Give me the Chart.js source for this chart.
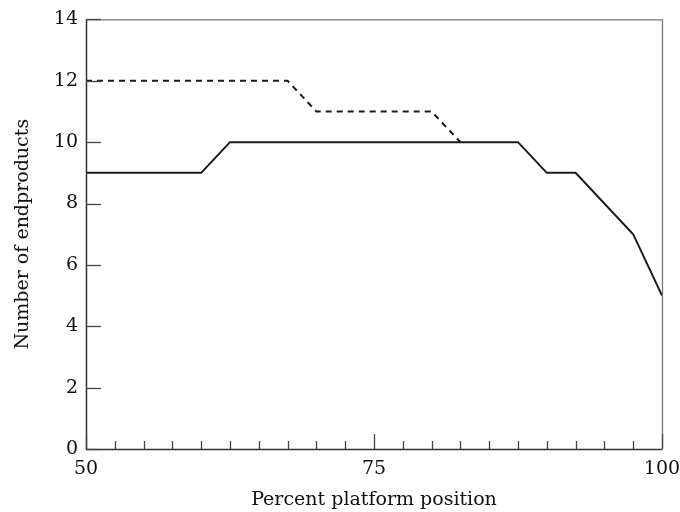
<!DOCTYPE html>
<html>
<head>
<meta charset="utf-8">
<script src="https://cdn.jsdelivr.net/npm/chart.js@4.4.0/dist/chart.umd.min.js"></script>
<style>
  html, body { margin: 0; padding: 0; background: #fff; }
  #wrap { width: 680px; height: 512px; }
</style>
</head>
<body>
<div id="wrap"><canvas id="grafico" width="680" height="512"></canvas></div>
<script>
// datos
const solidX = [50, 60, 62.5, 87.5, 90, 92.5, 97.5, 100];
const solidY = [9, 9, 10, 10, 9, 9, 7, 5];
const dashedX = [50, 67.5, 70, 80, 82.5];
const dashedY = [12, 12, 11, 11, 10];
const xLabels = [50, 75, 100];
const yTicks = [0, 2, 4, 6, 8, 10, 12, 14];

const fuente = "'DejaVu Serif', serif";

function puntos(xs, ys) {
  return xs.map((x, i) => ({ x: x, y: ys[i] }));
}

// marco y ticks hacia adentro
const marco = {
  id: 'marco',
  afterDraw(chart) {
    const ctx = chart.ctx;
    const a = chart.chartArea;
    const sx = chart.scales.x;
    const sy = chart.scales.y;
    ctx.save();
    ctx.lineWidth = 1.3;
    ctx.strokeStyle = '#777';
    ctx.beginPath();
    ctx.moveTo(a.left, a.top + 0.5);
    ctx.lineTo(a.right + 0.5, a.top + 0.5);
    ctx.lineTo(a.right + 0.5, a.bottom);
    ctx.stroke();
    ctx.strokeStyle = '#333';
    ctx.lineWidth = 1.5;
    ctx.beginPath();
    ctx.moveTo(a.left + 0.5, a.top);
    ctx.lineTo(a.left + 0.5, a.bottom + 0.5);
    ctx.lineTo(a.right + 0.5, a.bottom + 0.5);
    ctx.stroke();
    // ticks eje y
    ctx.strokeStyle = '#444';
    ctx.lineWidth = 1.3;
    yTicks.forEach(v => {
      const y = Math.round(sy.getPixelForValue(v)) + 0.5;
      ctx.beginPath();
      ctx.moveTo(a.left, y);
      ctx.lineTo(a.left + 15, y);
      ctx.stroke();
    });
    // ticks eje x
    for (let v = 50; v <= 100; v += 2.5) {
      const x = Math.round(sx.getPixelForValue(v)) + 0.5;
      const largo = (v % 25 === 0) ? 15 : 8;
      ctx.beginPath();
      ctx.moveTo(x, a.bottom);
      ctx.lineTo(x, a.bottom - largo);
      ctx.stroke();
    }
    ctx.restore();
  }
};

const ctx = document.getElementById('grafico').getContext('2d');
const grafico = new Chart(ctx, {
  type: 'line',
  data: {
    datasets: [{
      data: puntos(solidX, solidY),
      borderColor: '#1a1a1a',
      borderWidth: 2,
      pointRadius: 0,
      tension: 0,
      fill: false
    }, {
      data: puntos(dashedX, dashedY),
      borderColor: '#1a1a1a',
      borderWidth: 2,
      borderDash: [6, 5],
      pointRadius: 0,
      tension: 0,
      fill: false
    }]
  },
  options: {
    responsive: false,
    animation: false,
    layout: { padding: { top: 17, right: 0, left: 0, bottom: 0 } },
    plugins: {
      legend: { display: false },
      tooltip: { enabled: false }
    },
    scales: {
      x: {
        type: 'linear',
        min: 50,
        max: 100,
        afterFit: s => {
          s.height = 63;
          s.paddingLeft = 0;
          s.paddingRight = 18;
        },
        afterBuildTicks: s => { s.ticks = xLabels.map(v => ({ value: v })); },
        grid: { display: false, drawTicks: false },
        border: { display: false },
        ticks: {
          color: '#111',
          padding: 9,
          maxRotation: 0,
          font: { family: fuente, size: 19 }
        },
        title: {
          display: true,
          text: 'Percent platform position',
          color: '#111',
          padding: { top: 4, bottom: 1 },
          font: { family: fuente, size: 19 }
        }
      },
      y: {
        min: 0,
        max: 14,
        afterFit: s => { s.width = 86; },
        afterBuildTicks: s => { s.ticks = yTicks.map(v => ({ value: v })); },
        grid: { display: false, drawTicks: false },
        border: { display: false },
        ticks: {
          color: '#111',
          padding: 8,
          font: { family: fuente, size: 19 }
        },
        title: {
          display: true,
          text: 'Number of endproducts',
          color: '#111',
          padding: { top: 12, bottom: 4 },
          font: { family: fuente, size: 19 }
        }
      }
    }
  },
  plugins: [marco]
});
</script>
</body>
</html>
